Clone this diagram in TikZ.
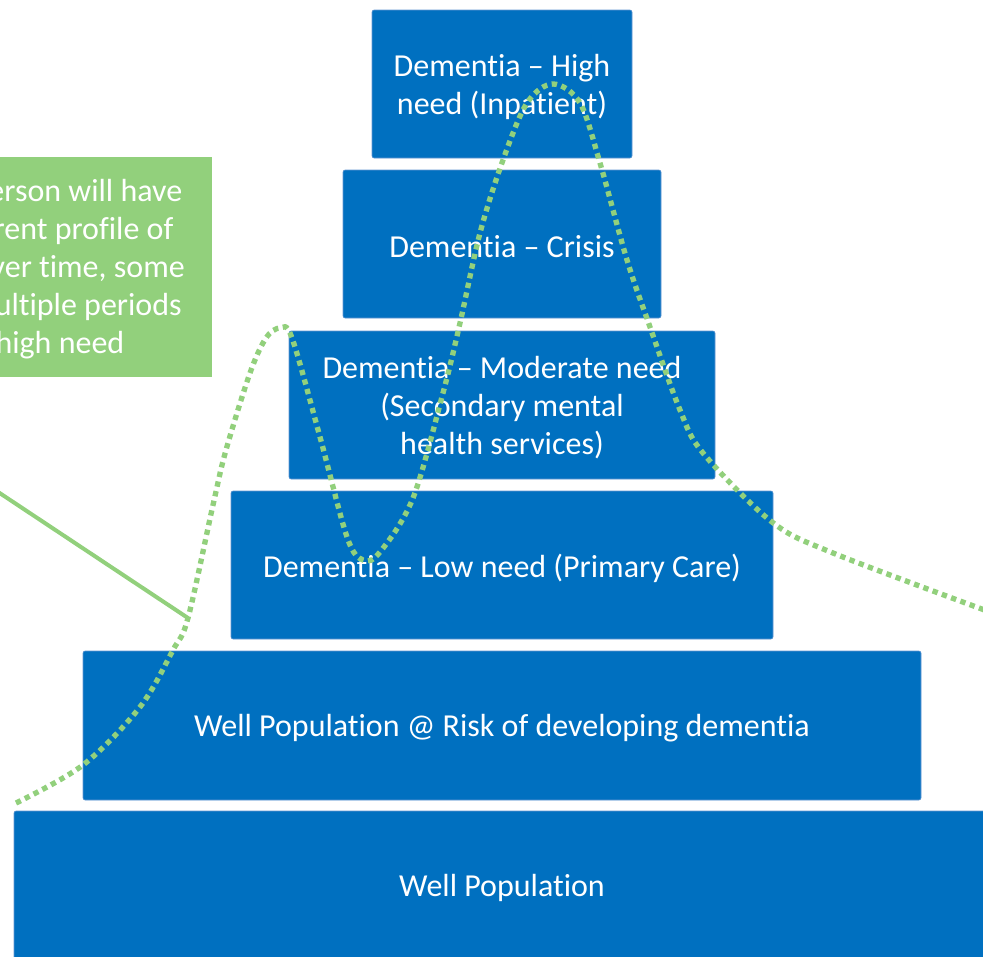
\documentclass[tikz,border=0pt]{standalone}
\usepackage{fontspec}
\setmainfont{Carlito}[Ligatures=NoCommon]
\definecolor{tierblue}{RGB}{0,112,192}
\definecolor{tieredge}{RGB}{100,150,210}
\definecolor{notegreen}{RGB}{146,208,124}
\begin{document}
\begin{tikzpicture}[x=0.75pt,y=-0.75pt,
  tier/.style={fill=tierblue, draw=tieredge, line width=0.4pt, rounded corners=1.5pt,
    inner sep=0pt, minimum height=111pt},
  tiertext/.style={text=white, align=center, inner sep=0pt, yshift=-2.25pt,
    font=\fontsize{24}{28.5}\selectfont},
  note/.style={fill=notegreen, inner sep=0pt, align=center, text=white,
    font=\fontsize{24}{28.5}\selectfont},
  journey/.style={notegreen, line width=4pt, dash pattern=on 4pt off 3.4pt},
  pointer/.style={notegreen, line width=3pt}]
\useasboundingbox (0,0) rectangle (983,957);
\clip (0,0) rectangle (983,957);

% pyramid of care tiers
\node[tier, minimum width=195pt,
  label={[tiertext]center:{Dementia – High\\need (Inpatient)}}] (high) at (502,84) {};
\node[tier, minimum width=238.5pt,
  label={[tiertext]center:{Dementia – Crisis}}] (crisis) at (502,244) {};
\node[tier, minimum width=319.5pt,
  label={[tiertext]center:{Dementia – Moderate need\\(Secondary mental\\health services)}}] (mod) at (502,405) {};
\node[tier, minimum width=406.5pt,
  label={[tiertext]center:{Dementia – Low need (Primary Care)}}] (low) at (502,565) {};
\node[tier, minimum width=628.5pt, minimum height=111.75pt,
  label={[tiertext]center:{Well Population @ Risk of developing dementia}}] (risk) at (502,725.5) {};
\node[tier, minimum width=732pt,
  label={[tiertext]center:{Well Population}}] (well) at (502,885) {};

% explanatory note
\node[note, minimum width=241.5pt, minimum height=165pt] (infobox) at (51,267) {};
\node[note, fill=none, yshift=-1.5pt] (info) at (43,267)
  {Each person will have\\a different profile of\\need over time, some\\with multiple periods\\of high need};

% pointer from the note to the journey curve
\coordinate (lead) at (-20,480);
\coordinate (touch) at (188,618);
\draw[pointer] (lead) -- (touch);

% an individual's path through the tiers over time
\draw[journey] plot[smooth, tension=0.55] coordinates {
  (16,803) (83,765) (140,707) (173,650) (188,618) (213,505) (226,450)
  (250,373) (266,338) (280,328) (292,338) (320,437) (347,537) (363,560)
  (380,552) (413,498) (443,393) (460,323) (480,233) (503,160) (527,103)
  (553,84) (580,103) (600,163) (627,260) (650,327) (680,410) (703,453)
  (772,522) (833,553) (990,612)};
\end{tikzpicture}
\end{document}
